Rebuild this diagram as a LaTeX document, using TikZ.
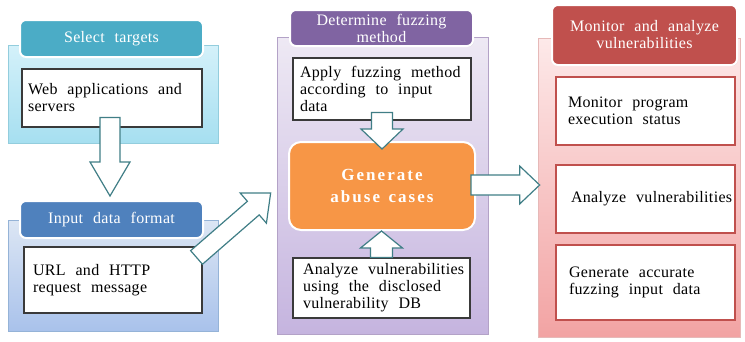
\documentclass[tikz,border=0pt]{standalone}
\usepackage{fontspec}
\setmainfont{Liberation Serif}
\usetikzlibrary{calc,shadows}
\definecolor{bAtop}{HTML}{D4F1FA}\definecolor{bAbot}{HTML}{A6DFF0}\definecolor{bAedge}{HTML}{93CDDD}
\definecolor{bBtop}{HTML}{DCE6F4}\definecolor{bBbot}{HTML}{A9C2EB}\definecolor{bBedge}{HTML}{95B3D7}
\definecolor{pTop}{HTML}{EEE9F4}\definecolor{pBot}{HTML}{C5B4DF}\definecolor{pEdge}{HTML}{B3A2C7}
\definecolor{rTop}{HTML}{FDE9E9}\definecolor{rBot}{HTML}{F2A3A3}\definecolor{rEdge}{HTML}{E6B9B8}
\definecolor{tabteal}{HTML}{4BACC6}\definecolor{tabblue}{HTML}{4F81BD}
\definecolor{tabpurple}{HTML}{8064A2}\definecolor{tabred}{HTML}{C0504D}
\definecolor{orangebox}{HTML}{F79646}\definecolor{arrline}{HTML}{407E86}
\definecolor{boxgray}{HTML}{3A3A3A}\definecolor{boxred}{HTML}{C0504D}
\newcommand\txtfont{\fontsize{16pt}{17pt}\selectfont\addfontfeature{LetterSpace=2}}
\newcommand\genfont{\fontsize{17pt}{22pt}\selectfont\bfseries\addfontfeature{LetterSpace=12}}
\newcommand\blockarrow[5]{%
  \coordinate (ba-h) at ($(#2)!#5!(#1)$);
  \draw[blockarr] ($(#1)!#3!90:(#2)$) -- ($(ba-h)!#3!-90:(#1)$) -- ($(ba-h)!#4!-90:(#1)$) -- (#2)
    -- ($(ba-h)!#4!90:(#1)$) -- ($(ba-h)!#3!90:(#1)$) -- ($(#1)!#3!-90:(#2)$) -- cycle;}
\begin{document}
\begin{tikzpicture}[x=1pt,y=-1pt,
  widesp/.style={execute at begin node={\spaceskip #1em\relax\xspaceskip #1em\relax}},
  panel/.style={rectangle, inner sep=0pt, line width=0.7pt,
    drop shadow={shadow xshift=1pt, shadow yshift=-1pt, opacity=0.18}},
  tab/.style={rectangle, rounded corners=6pt, draw=white, line width=2pt, text=white, font=\txtfont,
    align=center, inner sep=0pt, widesp=0.62,
    drop shadow={shadow xshift=0.8pt, shadow yshift=-0.8pt, opacity=0.3}},
  wbox/.style={rectangle, fill=white, line width=1.1pt, font=\txtfont, align=left, inner xsep=7pt,
    inner ysep=0pt, widesp=0.62},
  blockarr/.style={draw=arrline, fill=white, line width=1.2pt, line join=miter}]
\useasboundingbox (0,0) rectangle (745,341);
% panels
\node[panel, top color=bAtop, bottom color=bAbot, draw=bAedge, minimum width=210pt, minimum height=98pt] (p1) at (113,94) {};
\node[panel, top color=bBtop, bottom color=bBbot, draw=bBedge, minimum width=210pt, minimum height=111pt] (p2) at (113,275.5) {};
\node[panel, top color=pTop, bottom color=pBot, draw=pEdge, minimum width=211pt, minimum height=297pt] (p3) at (382.5,185.5) {};
\node[panel, top color=rTop, bottom color=rBot, draw=rEdge, minimum width=202pt, minimum height=299pt] (p4) at (639,187.5) {};
% title tabs
\node[tab, fill=tabteal, minimum width=183pt, minimum height=37pt] (t1) at (111.5,38.5) {Select targets};
\node[tab, fill=tabblue, minimum width=183pt, minimum height=37pt] (t2) at (111.5,219.5) {Input data format};
\node[tab, fill=tabpurple, minimum width=183pt, minimum height=36pt] (t3) at (381.5,28) {Determine fuzzing\\method};
\node[tab, fill=tabred, minimum width=185pt, minimum height=60pt] (t4) at (644.5,35) {Monitor and analyze\\vulnerabilities};
% white boxes
\node[wbox, draw=boxgray, text width=168pt, inner xsep=6pt, minimum height=58pt] (web) at (112,98) {\mbox{Web applications and}\\servers};
\node[wbox, draw=boxgray, text width=160pt, inner xsep=9pt, minimum height=66pt] (url) at (113,280) {\mbox{URL and HTTP}\\\mbox{request message}};
\node[wbox, draw=boxgray, text width=164pt, minimum height=62pt] (apply) at (382,89) {\mbox{Apply fuzzing method}\\\mbox{according to input}\\data};
\node[wbox, draw=boxgray, text width=157pt, inner xsep=10pt, minimum height=60pt] (db) at (381.5,288) {\mbox{Analyze vulnerabilities}\\\mbox{using the disclosed}\\\mbox{vulnerability DB}};
\node[rectangle, rounded corners=12pt, fill=orangebox, draw=white, line width=2pt, text=white,
  font=\genfont, align=center, minimum width=186pt, minimum height=88pt, widesp=0.5,
  drop shadow={shadow xshift=0.8pt, shadow yshift=-0.8pt, opacity=0.25}] (gen) at (382,186) {Generate\\abuse cases};
\node[wbox, draw=boxred, text width=155pt, inner xsep=12pt, minimum height=68pt] (r1) at (645.5,111) {\mbox{Monitor program}\\\mbox{execution status}};
\node[wbox, draw=boxred, text width=149pt, inner xsep=15pt, minimum height=68pt] (r2) at (645.5,199) {\mbox{Analyze vulnerabilities}};
\node[wbox, draw=boxred, text width=153pt, inner xsep=13pt, minimum height=75pt] (r3) at (645.5,282.5) {\mbox{Generate accurate}\\\mbox{fuzzing input data}};
% block arrows
\coordinate (a1s) at ($(web.south)+(-2,-10)$);
\coordinate (a1e) at ($(t2.north)+(-1.5,-4)$);
\coordinate (a2s) at ($(url.north east)+(-6,11)$);
\coordinate (a2e) at ($(p3.west)+(-6,7.5)$);
\coordinate (a3s) at ($(apply.south)+(0,-8)$);
\coordinate (a3e) at ($(gen.north)+(0,8)$);
\coordinate (a4s) at (db.north);
\coordinate (a4e) at ($(gen.south)+(-0.5,0)$);
\coordinate (a5s) at ($(gen.east)+(-5,-1)$);
\coordinate (a5e) at ($(p4.west)+(2,-2.5)$);
\blockarrow{a1s}{a1e}{10pt}{20pt}{34pt}
\blockarrow{a2s}{a2e}{9pt}{20pt}{23pt}
\blockarrow{a3s}{a3e}{10.5pt}{21pt}{20pt}
\blockarrow{a4s}{a4e}{11pt}{21pt}{17pt}
\blockarrow{a5s}{a5e}{10pt}{19pt}{20pt}
\end{tikzpicture}
\end{document}
